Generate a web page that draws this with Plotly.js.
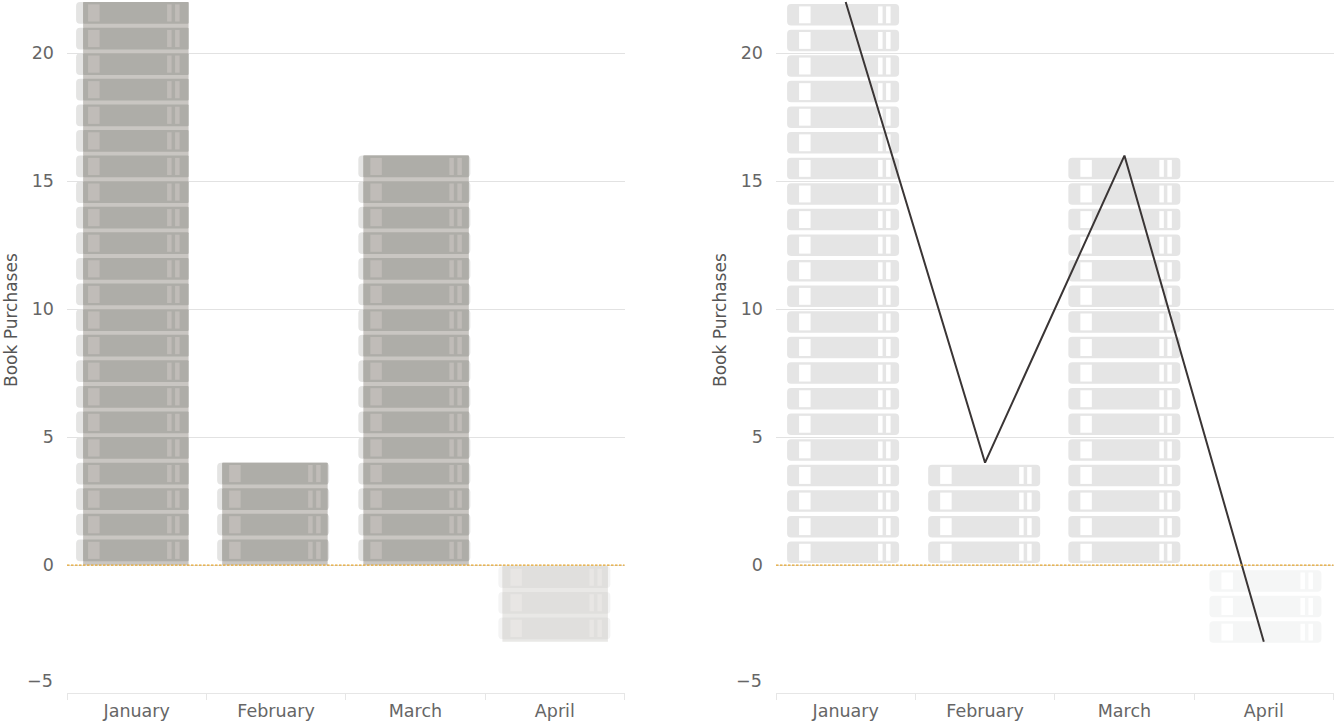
<!DOCTYPE html>
<html>
<head>
<meta charset="utf-8">
<script src="https://cdn.plot.ly/plotly-3.0.0.min.js"></script>
<style>html,body{margin:0;padding:0;background:#fff;overflow:hidden}#chart{width:1338px;height:724px}</style>
</head>
<body>
<div id="chart"></div>
<script>
// ---- chart data ----
const months = ['January', 'February', 'March', 'April'];
const purchases = [22, 4, 16, -3];
const yTickValues = [-5, 0, 5, 10, 15, 20];
const yTickLabels = ['', '0', '5', '10', '15', '20'];
const lowestTickLabel = '\u22125';
const yAxisLabel = 'Book Purchases';

// ---- layout constants (pixels) ----
const W = 1338, H = 724, AXIS_BOTTOM = 693, PANEL_W = 557.5;
const BAND = PANEL_W / 4;
const LEFT_X = 67, RIGHT_X = 776;
const FONT = '"DejaVu Sans", sans-serif';
const TICK_SIZE = 17.5;
const px = v => v / BAND;

// Offset of each book's left edge from its category centre, per panel.
const leftBookEdge = [-60.6, -58.9, -57.1, -56.4];
const rightBookEdge = [-58.6, -56.9, -56.1, -54.4];
const barEdge = [-53.6, -53.9, -52.1, -52.4];
const BOOK_W = 112, BAR_W = 105.5;

// Parts of a book's spine, relative to its left edge.
const spineParts = [[12, 11.5], [91, 4.5], [99, 4.5]];

function bookRows(i, upOffset, downOffset, height) {
  const v = purchases[i], rows = [];
  for (let n = 0; n < Math.abs(v); n++) {
    rows.push(v > 0 ? n + upOffset : -(n + downOffset) - height);
  }
  return rows;
}

function layer(axis, items, color, radius) {
  return {
    type: 'bar', xaxis: 'x' + axis, yaxis: 'y' + axis,
    x: items.map(d => d.x), y: items.map(d => d.h), base: items.map(d => d.b),
    offset: items.map(d => px(d.o)), width: items.map(d => px(d.w)),
    marker: {color: color, line: {width: 0}, cornerradius: radius},
    hoverinfo: 'skip', showlegend: false
  };
}

function books(edge, upOffset, downOffset, height, pick, inset) {
  const list = [];
  months.forEach((m, i) => {
    if (!pick(i)) return;
    bookRows(i, upOffset + (inset ? inset.v : 0), downOffset + (inset ? inset.v : 0), height - (inset ? 2 * inset.v : 0))
      .forEach(b => list.push({
        x: m, b: b, h: height - (inset ? 2 * inset.v : 0),
        o: edge[i] + (inset ? inset.o : 0), w: inset ? inset.w : BOOK_W
      }));
  });
  return list;
}

const up = i => purchases[i] > 0, down = i => purchases[i] < 0;
const traces = [];

// ---- left panel: pale books, then the value column over them ----
const L_UP = 0.15, L_DOWN = 0.05, L_H = 0.85;
traces.push(layer('', books(leftBookEdge, L_UP, L_DOWN, L_H, up), '#e4e4e3', 4));
traces.push(layer('', books(leftBookEdge, L_UP, L_DOWN, L_H, down), '#f4f4f4', 4));
const column = sel => months.map((m, i) => ({m, i})).filter(d => sel(d.i)).map(d => ({
  x: d.m, b: 0, h: purchases[d.i], o: barEdge[d.i], w: BAR_W
}));
traces.push(layer('', column(up), '#c9c6c2', 0));
traces.push(layer('', column(down), '#e9e8e6', 0));
const darkBooks = sel => {
  const list = [];
  months.forEach((m, i) => {
    if (!sel(i)) return;
    bookRows(i, L_UP, L_DOWN, L_H).forEach(b => list.push({x: m, b: b, h: L_H, o: barEdge[i], w: BAR_W}));
  });
  return list;
};
traces.push(layer('', darkBooks(up), '#aeada8', 1));
traces.push(layer('', darkBooks(down), '#e0dfdd', 1));
spineParts.forEach(p => {
  const inset = {v: 0.09, o: p[0], w: p[1]};
  traces.push(layer('', books(leftBookEdge, L_UP, L_DOWN, L_H, up, inset), '#c0bcb8', 0));
  traces.push(layer('', books(leftBookEdge, L_UP, L_DOWN, L_H, down, inset), '#e8e6e4', 0));
});

// ---- right panel: pale books with the value line over them ----
const R_UP = 0.08, R_DOWN = 0.2, R_H = 0.84;
traces.push(layer('2', books(rightBookEdge, R_UP, R_DOWN, R_H, up), '#e5e5e5', 4));
traces.push(layer('2', books(rightBookEdge, R_UP, R_DOWN, R_H, down), '#f5f6f6', 4));
spineParts.forEach(p => {
  const inset = {v: 0.09, o: p[0], w: p[1]};
  traces.push(layer('2', books(rightBookEdge, R_UP, R_DOWN, R_H, () => true, inset), '#ffffff', 0));
});
traces.push({
  type: 'scatter', mode: 'lines', xaxis: 'x2', yaxis: 'y2',
  x: months, y: purchases,
  line: {color: '#3a3535', width: 2}, hoverinfo: 'skip', showlegend: false, cliponaxis: false
});

// ---- axes ----
const xAxis = (left) => ({
  domain: [left / W, (left + PANEL_W) / W],
  type: 'category', categoryorder: 'array', categoryarray: months,
  range: [-0.5, 3.5], fixedrange: true,
  showgrid: false, zeroline: false, showline: true, linecolor: '#e6e6e6', linewidth: 1,
  ticks: 'outside', ticklen: 6, tickwidth: 1, tickcolor: '#e6e6e6', tickson: 'boundaries',
  ticklabelstandoff: 2,
  tickfont: {family: FONT, size: TICK_SIZE, color: '#666666'}
});
const yAxis = (anchor) => ({
  domain: [(H - AXIS_BOTTOM) / H, 1], anchor: anchor,
  range: [-5, 22.08], fixedrange: true,
  tickmode: 'array', tickvals: yTickValues, ticktext: yTickLabels,
  showgrid: true, gridcolor: '#e2e2e2', gridwidth: 1, zeroline: false, showline: false,
  ticks: '', ticklabelstandoff: 12,
  tickfont: {family: FONT, size: TICK_SIZE, color: '#666666'}
});
const zeroLine = (ax) => ({
  type: 'line', layer: 'above', xref: 'x' + ax + ' domain', yref: 'y' + ax,
  x0: 0, x1: 1, y0: 0, y1: 0, line: {color: '#e5a52e', width: 1.2, dash: '2.5px,1.5px'}
});
const lowLabel = (ax) => ({
  xref: 'x' + ax + ' domain', yref: 'y' + ax, x: 0, y: -5, text: lowestTickLabel,
  showarrow: false, xanchor: 'right', xshift: -12, yshift: 12,
  font: {family: FONT, size: TICK_SIZE, color: '#666666'}
});
const axisLabel = (ax) => ({
  xref: 'x' + ax + ' domain', yref: 'paper', x: 0, y: (H - 320) / H, text: yAxisLabel,
  textangle: -90, showarrow: false, xanchor: 'center', yanchor: 'middle', xshift: -56,
  font: {family: FONT, size: 17, color: '#555555'}
});

const layout = {
  width: W, height: H, margin: {l: 0, r: 0, t: 0, b: 0},
  paper_bgcolor: '#ffffff', plot_bgcolor: '#ffffff',
  barmode: 'overlay', showlegend: false, hovermode: false,
  xaxis: xAxis(LEFT_X), yaxis: yAxis('x'),
  xaxis2: xAxis(RIGHT_X), yaxis2: yAxis('x2'),
  shapes: [zeroLine(''), zeroLine('2')],
  annotations: [lowLabel(''), lowLabel('2'), axisLabel(''), axisLabel('2')]
};
Plotly.newPlot('chart', traces, layout, {displayModeBar: false, staticPlot: true});
</script>
</body>
</html>
